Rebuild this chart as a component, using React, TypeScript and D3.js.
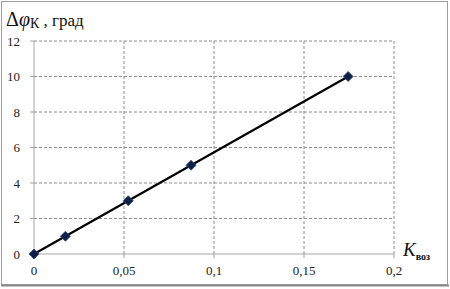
import React from "react";
import * as d3 from "d3";

const xValues = [0, 0.01745, 0.05236, 0.08727, 0.17453];
const yValues = [0, 1, 3, 5, 10];
const xTicks = [0, 0.05, 0.1, 0.15, 0.2];
const xTickLabels = ["0", "0,05", "0,1", "0,15", "0,2"];
const yTicks = [0, 2, 4, 6, 8, 10, 12];

const W = 450;
const H = 289;
const FONT = "'Liberation Serif', 'DejaVu Serif', serif";

export default function App() {
  const x = d3.scaleLinear().domain([0, 0.2]).range([34, 394]);
  const y = d3.scaleLinear().domain([0, 12]).range([254, 41]);
  const line = d3
    .line<number>()
    .x((_, i) => x(xValues[i]))
    .y((d) => y(d));
  const diamond = "M0,-5L5,0L0,5L-5,0Z";

  return (
    <svg
      width={W}
      height={H}
      style={{ position: "absolute", left: 0, top: 0, background: "#fff" }}
    >
      <rect x={1.5} y={1.5} width={446} height={283} fill="#fff" stroke="#a0a0a0" strokeWidth={1} />
      <line x1={1} x2={449} y1={285.5} y2={285.5} stroke="#8a8a8a" strokeWidth={2} />
      {/* grid */}
      {yTicks.filter((t) => t > 0).map((t) => (
        <line key={"gy" + t} x1={x(0)} x2={x(0.2)} y1={y(t)} y2={y(t)} stroke="#8c8c8c" strokeWidth={1} strokeDasharray="3,2" />
      ))}
      {xTicks.filter((t) => t > 0).map((t) => (
        <line key={"gx" + t} x1={x(t)} x2={x(t)} y1={y(0)} y2={y(12)} stroke="#8c8c8c" strokeWidth={1} strokeDasharray="3,2" />
      ))}
      {/* axes */}
      <line x1={x(0)} x2={x(0)} y1={y(0)} y2={y(12)} stroke="#a6a6a6" strokeWidth={1} />
      <line x1={x(0)} x2={x(0.2)} y1={y(0)} y2={y(0)} stroke="#a6a6a6" strokeWidth={1} />
      {yTicks.map((t) => (
        <line key={"ty" + t} x1={x(0) - 4} x2={x(0)} y1={y(t)} y2={y(t)} stroke="#a6a6a6" />
      ))}
      {xTicks.map((t) => (
        <line key={"tx" + t} x1={x(t)} x2={x(t)} y1={y(0)} y2={y(0) + 4} stroke="#a6a6a6" />
      ))}
      {/* tick labels */}
      {yTicks.map((t) => (
        <text key={"ly" + t} x={20} y={y(t) + 4.5} textAnchor="end" fontFamily={FONT} fontSize={13} fill="#222">
          {t}
        </text>
      ))}
      {xTicks.map((t, i) => (
        <text key={"lx" + t} x={x(t)} y={275} textAnchor="middle" fontFamily={FONT} fontSize={13} fill="#222">
          {xTickLabels[i]}
        </text>
      ))}
      {/* data */}
      <path d={line(yValues) || ""} fill="none" stroke="#000" strokeWidth={2.2} />
      {yValues.map((v, i) => (
        <path key={"m" + i} d={diamond} transform={`translate(${x(xValues[i])},${y(v)})`} fill="#0f1f45" stroke="#2a4a80" strokeWidth={0.8} />
      ))}
      {/* titles */}
      <text x={6} y={26} fontFamily={FONT} fill="#111">
        <tspan fontSize={20}>Δ</tspan>
        <tspan fontSize={20} fontStyle="italic">φ</tspan>
        <tspan fontSize={14} dy={2}>К</tspan>
        <tspan fontSize={17} dy={-2}> , град</tspan>
      </text>
      <text x={403} y={256} fontFamily={FONT} fill="#111">
        <tspan fontSize={19} fontStyle="italic">K</tspan>
        <tspan fontSize={10} dy={4} fontWeight="bold">воз</tspan>
      </text>
    </svg>
  );
}
